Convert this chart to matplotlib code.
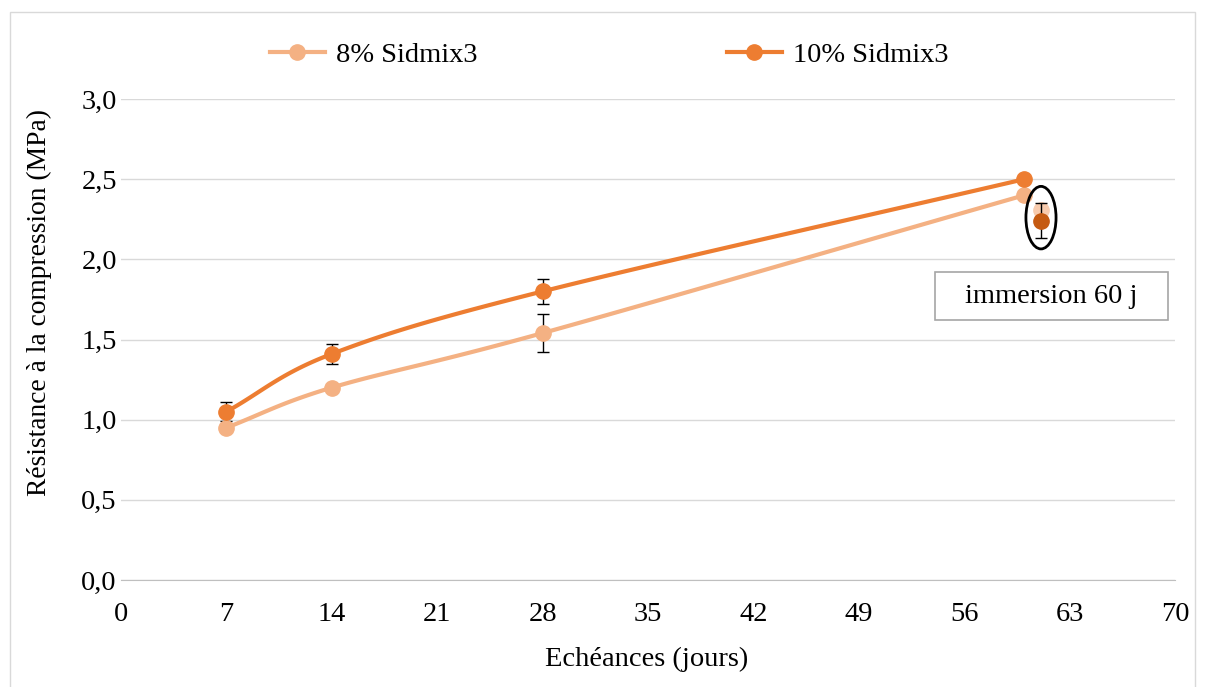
import numpy as np
import matplotlib.pyplot as plt
from matplotlib.patches import Ellipse, Rectangle
from matplotlib.ticker import FuncFormatter

plt.rcParams['font.family'] = ['Liberation Serif', 'DejaVu Serif']

days = [7, 14, 28, 60]
s8 = [0.95, 1.20, 1.54, 2.40]
s8_err = [0.0, 0.0, 0.12, 0.0]
s10 = [1.05, 1.41, 1.80, 2.50]
s10_err = [0.06, 0.06, 0.08, 0.0]
imm_day = 61.1
imm8 = 2.31
imm10 = 2.24
imm10_err = 0.11

c8 = '#F4B183'
c10 = '#ED7D31'
fs = 20.5


def smooth(x, y, n=30):
    # catmull-rom style curve, like excel's smoothed line
    x = np.asarray(x, float)
    y = np.asarray(y, float)
    px = np.concatenate([[2 * x[0] - x[1]], x, [2 * x[-1] - x[-2]]])
    py = np.concatenate([[2 * y[0] - y[1]], y, [2 * y[-1] - y[-2]]])
    ox, oy = [], []
    for i in range(1, len(px) - 2):
        t = np.linspace(0, 1, n)
        for p, o in ((px, ox), (py, oy)):
            p0, p1, p2, p3 = p[i - 1], p[i], p[i + 1], p[i + 2]
            o.extend(0.5 * (2 * p1 + (-p0 + p2) * t + (2 * p0 - 5 * p1 + 4 * p2 - p3) * t ** 2
                            + (-p0 + 3 * p1 - 3 * p2 + p3) * t ** 3))
    return ox, oy


fig = plt.figure(figsize=(12.06, 6.87), dpi=100)
ax = fig.add_axes([121 / 1206, 1 - 580 / 687, (1175 - 121) / 1206, (580 - 99) / 687])

fig.patches.append(Rectangle((10 / 1206, -5 / 687), 1185 / 1206, 680 / 687,
                             transform=fig.transFigure, fill=False, ec='#D9D9D9', lw=1))

for d, v, e, c in ((days, s8, s8_err, c8), (days, s10, s10_err, c10)):
    sx, sy = smooth(d, v)
    ax.plot(sx, sy, color=c, lw=3, zorder=2, solid_capstyle='round')
    ax.errorbar(d, v, yerr=e, fmt='none', ecolor='black', elinewidth=1, capsize=4.5, zorder=3)
    ax.plot(d, v, 'o', color=c, ms=11, zorder=4)

ax.plot([], [], '-o', color=c8, lw=3, ms=11, label='8% Sidmix3')
ax.plot([], [], '-o', color=c10, lw=3, ms=11, label='10% Sidmix3')

ax.plot([imm_day], [imm8], 'o', color='#F8CBAD', ms=11, zorder=3)
ax.errorbar([imm_day], [imm10], yerr=[imm10_err], fmt='o', color='#C55A11', ms=11,
            ecolor='black', elinewidth=1, capsize=4.5, zorder=4)
ax.add_patch(Ellipse((imm_day, 2.26), 2.0, 0.39, fill=False, ec='black', lw=2, zorder=5))

# annotation box
ax.add_patch(Rectangle((54.05, 1.622), 15.47, 0.30, fc='white', ec='#A6A6A6', lw=1.2, zorder=5))
ax.text(61.79, 1.77, 'immersion 60 j', ha='center', va='center', fontsize=fs, zorder=6)

ax.set_xlim(0, 70)
ax.set_ylim(0, 3.0)
ax.set_xticks(range(0, 71, 7))
ax.set_yticks(np.arange(0, 3.01, 0.5))
ax.yaxis.set_major_formatter(FuncFormatter(lambda v, p: f'{v:.1f}'.replace('.', ',')))
ax.grid(axis='y', color='#D9D9D9', lw=1)
ax.set_axisbelow(True)
for s in ('top', 'right', 'left'):
    ax.spines[s].set_visible(False)
ax.spines['bottom'].set_color('#BFBFBF')
ax.tick_params(length=0, labelsize=fs)
ax.tick_params(axis='x', pad=16)
ax.tick_params(axis='y', pad=3)
ax.set_xlabel('Echéances (jours)', fontsize=fs)
ax.set_ylabel('Résistance à la compression (MPa)', fontsize=19.8)
ax.xaxis.set_label_coords(0.499, -0.138)
ax.yaxis.set_label_coords(-0.065, 0.576)

fig.legend(loc='center left', bbox_to_anchor=(270 / 1206, 1 - 55 / 687), ncol=2, frameon=False,
           fontsize=fs, columnspacing=8.75, handlelength=1.93, handletextpad=0.4,
           borderpad=0, borderaxespad=0)

fig.savefig('out.png', dpi=100)
